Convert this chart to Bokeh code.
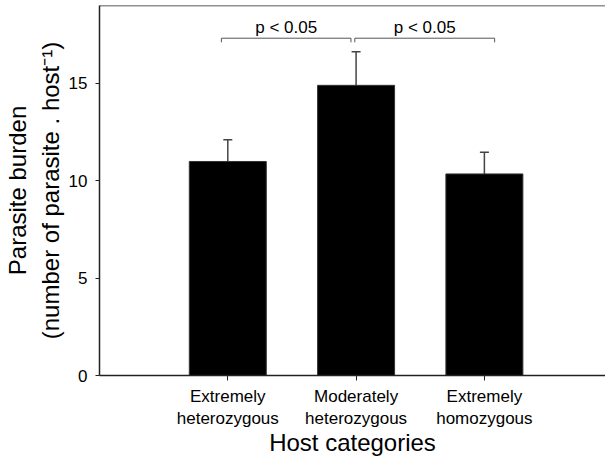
import math
from bokeh.plotting import figure
from bokeh.models import ColumnDataSource, Whisker, TeeHead, FixedTicker, Span, Range1d
from bokeh.core.properties import value
from bokeh.embed import file_html
from bokeh.resources import INLINE

# data
categories = ["Extremely\nheterozygous", "Moderately\nheterozygous", "Extremely\nhomozygous"]
positions = [1, 2, 3]
means = [10.99, 14.9, 10.35]
errors = [1.12, 1.73, 1.11]
y_ticks = [0, 5, 10, 15]
sig_labels = ["p < 0.05", "p < 0.05"]
bracket_left = [0.95, 1.99]
bracket_right = [1.96, 3.08]
bracket_y = [17.32, 17.32]
bracket_drop = [0.21, 0.21]
sig_text_y = [17.86, 17.86]
x_title = "Host categories"
y_title = "Parasite burden\n(number of parasite . host\u207b\u00b9)"

FONT = "Liberation Sans"

p = figure(width=605, height=459, output_backend="svg", toolbar_location=None,
           x_range=Range1d(0, 3.944), y_range=Range1d(0, 19.0),
           min_border_left=99, min_border_right=0, min_border_top=5, min_border_bottom=84)
p.outline_line_color = None
p.grid.grid_line_color = None
p.background_fill_color = "white"
p.border_fill_color = "white"

src = ColumnDataSource(dict(x=positions, top=means,
                            upper=[m + e for m, e in zip(means, errors)]))
p.vbar(x="x", top="top", bottom=0, width=0.6, source=src,
       fill_color="black", line_color="#333333", line_width=1)

wh = Whisker(base="x", lower="top", upper="upper", source=src,
             line_color="#444444", line_width=1.5,
             upper_head=TeeHead(size=9, line_color="#444444", line_width=1.5),
             lower_head=None)
p.add_layout(wh)

# significance brackets
xs = []
ys = []
for l, r, y, d in zip(bracket_left, bracket_right, bracket_y, bracket_drop):
    xs.append([l, l, r, r])
    ys.append([y - d, y, y, y - d])
p.multi_line(xs=xs, ys=ys, line_color="#555555", line_width=1)
centers = [(l + r) / 2 for l, r in zip(bracket_left, bracket_right)]
p.text(x=centers, y=sig_text_y, text=sig_labels, text_font=value(FONT),
       text_font_size="17px", text_align="center", text_baseline="alphabetic",
       text_color="black")

# top border line
p.add_layout(Span(location=19.0, dimension="width", line_color="#222222", line_width=1.5))

# axes
xa = p.xaxis[0]
xa.ticker = FixedTicker(ticks=positions)
xa.major_label_overrides = {pos: lab for pos, lab in zip(positions, categories)}
xa.minor_tick_line_color = None
xa.major_tick_out = 5
xa.major_tick_in = 0
xa.axis_line_color = "#222222"
xa.axis_line_width = 1.5
xa.major_tick_line_color = "#222222"
xa.major_label_text_font = FONT
xa.major_label_text_font_size = "17px"
xa.major_label_text_color = "black"
xa.major_label_standoff = 6
xa.axis_label = x_title
xa.axis_label_text_font = FONT
xa.axis_label_text_font_size = "24px"
xa.axis_label_text_font_style = "normal"
xa.axis_label_text_color = "black"
xa.axis_label_standoff = -2

ya = p.yaxis[0]
ya.ticker = FixedTicker(ticks=y_ticks)
ya.minor_tick_line_color = None
ya.major_tick_out = 4
ya.major_tick_in = 0
ya.axis_line_color = "#222222"
ya.axis_line_width = 1.5
ya.major_tick_line_color = "#222222"
ya.major_label_text_font = FONT
ya.major_label_text_font_size = "17px"
ya.major_label_text_color = "black"
ya.major_label_standoff = 8
ya.axis_label = y_title
ya.axis_label_text_font = FONT
ya.axis_label_text_font_size = "24px"
ya.axis_label_text_font_style = "normal"
ya.axis_label_text_color = "black"
ya.axis_label_standoff = 2

open("out.html", "w").write(file_html(p, INLINE))
